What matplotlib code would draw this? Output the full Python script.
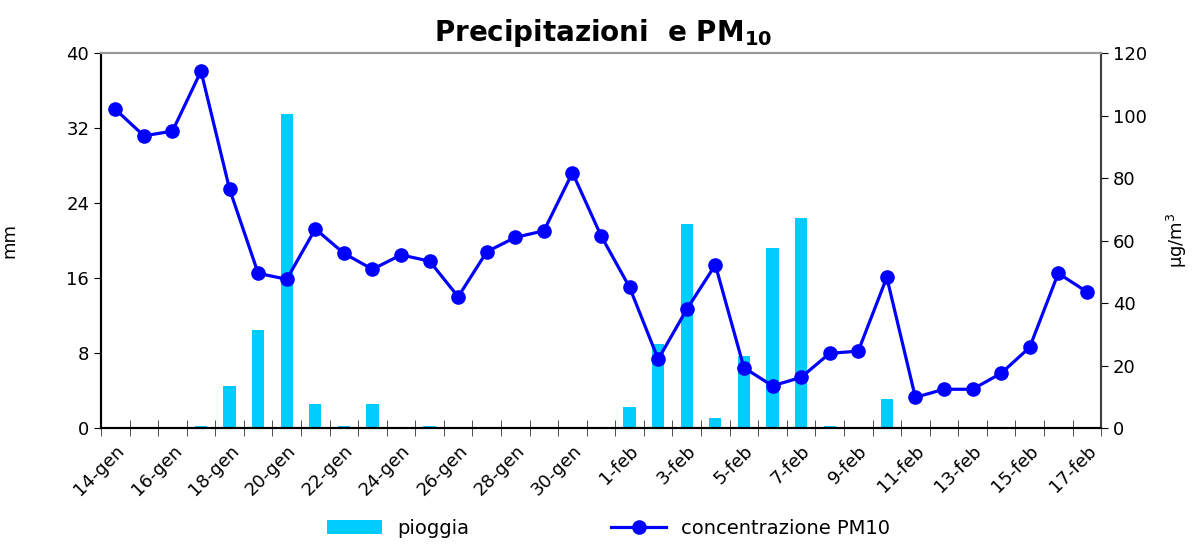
import numpy as np
import matplotlib
matplotlib.use("Agg")
import matplotlib.pyplot as plt
from matplotlib.ticker import FixedLocator, NullFormatter

days = ["%d-gen" % d for d in range(14, 32)] + ["%d-feb" % d for d in range(1, 18)]

# pioggia (mm)
pioggia = [0, 0, 0, 0.2, 4.5, 10.5, 33.5, 2.6, 0.2, 2.6, 0, 0.2, 0, 0, 0, 0, 0, 0,
           2.2, 9.0, 21.8, 1.1, 7.7, 19.2, 22.4, 0.25, 0, 3.1, 0, 0, 0, 0, 0, 0, 0]

# concentrazione PM10 (ug/m3)
pm10 = [102.0, 93.5, 95.0, 114.2, 76.4, 49.5, 47.6, 63.7, 55.9, 50.8, 55.4, 53.4,
        42.0, 56.4, 61.0, 63.1, 81.7, 61.5, 45.0, 22.0, 38.0, 52.2, 19.3, 13.5,
        16.2, 23.9, 24.6, 48.2, 9.8, 12.4, 12.4, 17.5, 25.8, 49.5, 43.6]

plt.rcParams['font.family'] = ['DejaVu Sans']

fig = plt.figure(figsize=(11.94, 5.5), dpi=100)
ax = fig.add_axes([0.0846, 0.2218, 0.8376, 0.6818])
x = np.arange(len(days))

bars = ax.bar(x, pioggia, width=0.43, color="#00CCFF", label="pioggia", zorder=2)
ax.set_ylim(0, 40)
ax.set_xlim(-0.5, len(days) - 0.5)
ax.set_yticks(np.arange(0, 41, 8))
ax.set_ylabel("mm", fontsize=13)
ax.yaxis.set_label_coords(-0.083, 0.5)

ax2 = ax.twinx()
line, = ax2.plot(x, pm10, color="#0000FF", lw=2.3, marker="o", ms=9.5,
                 label="concentrazione PM10", zorder=3)
ax2.set_ylim(0, 120)
ax2.set_yticks(np.arange(0, 121, 20))
ax2.set_ylabel("\u00b5g/m$^3$", fontsize=13)
ax2.yaxis.set_label_coords(1.064, 0.5)

# x ticks: marks on category boundaries, labels every other day
ax.xaxis.set_major_locator(FixedLocator(x[::2]))
ax.set_xticklabels(days[::2], rotation=45, ha="right", rotation_mode="anchor",
                   fontsize=13)
ax.xaxis.set_minor_locator(FixedLocator(np.arange(-0.5, len(days), 1)))
ax.xaxis.set_minor_formatter(NullFormatter())
ax.tick_params(axis="x", which="major", length=0, pad=10)
ax.tick_params(axis="x", which="minor", length=12, direction="inout", color="#333333")
ax.tick_params(axis="y", labelsize=13, length=5, direction="out")
ax2.tick_params(axis="y", labelsize=13, length=5, direction="out")

for a in (ax, ax2):
    a.spines["left"].set_color("black")
    a.spines["bottom"].set_color("black")
    a.spines["right"].set_color("#404040")
    a.spines["top"].set_color("#999999")
    for s in a.spines.values():
        s.set_linewidth(1.5)

fig.text(0.505, 0.94, "Precipitazioni  e PM$_{\\mathbf{10}}$", ha="center", va="center",
         fontsize=20, fontweight="bold")

fig.legend([bars, line], ["pioggia", "concentrazione PM10"], loc="lower center",
           bbox_to_anchor=(0.51, -0.01), ncol=2, frameon=False, fontsize=14,
           handlelength=2.8, columnspacing=7.3)

fig.savefig("out.png", dpi=100)
